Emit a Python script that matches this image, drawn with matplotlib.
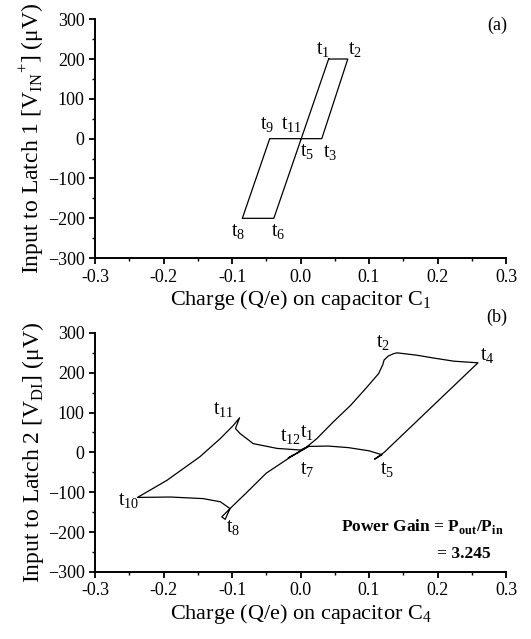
import numpy as np
import matplotlib
matplotlib.use("Agg")
import matplotlib.pyplot as plt
from matplotlib.ticker import MultipleLocator, FormatStrFormatter

plt.rcParams['font.family'] = ['Liberation Serif', 'DejaVu Serif']
plt.rcParams['mathtext.fontset'] = 'custom'
plt.rcParams['mathtext.rm'] = 'Liberation Serif'
plt.rcParams['mathtext.bf'] = 'Liberation Serif:bold'

# (a) latch 1 input vs charge on C1
qa = [0.041, 0.069, 0.031, 0.001, -0.039, -0.085, -0.045, 0.001, 0.041]
va = [200, 200, 0, 0, -200, -200, 0, 0, 200]

labels_a = [r"t$_1$", r"t$_2$", r"t$_9$", r"t$_{11}$", r"t$_5$", r"t$_3$", r"t$_8$", r"t$_6$"]
lab_qa = [0.033, 0.080, -0.049, -0.013, 0.010, 0.044, -0.091, -0.032]
lab_va = [222, 222, 34, 34, -35, -37, -235, -235]

# (b) latch 2 input vs charge on C4 (one traced loop)
qb = [0.010, 0.024, 0.048, 0.073, 0.097, 0.114, 0.120, 0.122, 0.128, 0.136, 0.141,
      0.170, 0.194, 0.224, 0.259,
      0.122, 0.108,
      0.119, 0.100, 0.070, 0.040, 0.012,
      -0.015, -0.05, -0.08, -0.103,
      -0.115, -0.110, -0.103, -0.117, -0.142, -0.190, -0.238,
      -0.195, -0.147, -0.117, -0.098, -0.089, -0.095,
      -0.088, -0.069, -0.034, 0.000, 0.012,
      -0.018, -0.010]
vb = [15, 35, 77, 118, 164, 198, 220, 232, 242, 248, 250,
      244, 237, 229, 225,
      0, -17,
      -6, 4, 12, 16, 15,
      -12, -52, -103, -141,
      -162, -168, -141, -124, -116, -112, -113,
      -70, -11, 35, 68, 87, 60,
      47, 22, 10, 6, 16,
      -14, -6]

labels_b = [r"t$_2$", r"t$_4$", r"t$_{11}$", r"t$_{12}$", r"t$_1$", r"t$_7$",
            r"t$_5$", r"t$_{10}$", r"t$_8$"]
lab_qb = [0.121, 0.272, -0.113, -0.015, 0.009, 0.009, 0.126, -0.251, -0.098]
lab_vb = [274, 240, 106, 39, 47, -45, -45, -124, -191]

fig = plt.figure(figsize=(5.31, 6.39), dpi=100)
ax1 = fig.add_axes([0.179, 0.596, 0.774, 0.374])
ax2 = fig.add_axes([0.179, 0.105, 0.774, 0.374])

ax1.plot(qa, va, color='black', lw=0.9)
for s, x, y in zip(labels_a, lab_qa, lab_va):
    ax1.text(x, y, s, fontsize=14.5, ha='center', va='center')

ax2.plot(qb, vb, color='black', lw=0.9)
for s, x, y in zip(labels_b, lab_qb, lab_vb):
    ax2.text(x, y, s, fontsize=14.5, ha='center', va='center')
ax2.text(0.297, -187, r"Power Gain = P$_{\mathbf{out}}$/P$_{\mathbf{in}}$",
         fontsize=12.5, fontweight='bold', ha='right', va='center')
ax2.text(0.277, -254, "= 3.245", fontsize=12.5, fontweight='bold',
         ha='right', va='center')

ax1.text(0.287, 285, "(a)", fontsize=13, ha='center', va='center')
ax2.text(0.287, 340, "(b)", fontsize=13, ha='center', va='center', clip_on=False)

for ax in (ax1, ax2):
    ax.set_xlim(-0.3, 0.3)
    ax.set_ylim(-300, 300)
    ax.spines['top'].set_visible(False)
    ax.spines['right'].set_visible(False)
    for sp in ('left', 'bottom'):
        ax.spines[sp].set_linewidth(1.4)
    ax.xaxis.set_major_locator(MultipleLocator(0.1))
    ax.xaxis.set_minor_locator(MultipleLocator(0.05))
    ax.xaxis.set_major_formatter(FormatStrFormatter('%.1f'))
    ax.yaxis.set_major_locator(MultipleLocator(100))
    ax.yaxis.set_minor_locator(MultipleLocator(50))
    ax.tick_params(which='major', direction='out', length=4, width=1.3, labelsize=13)
    ax.tick_params(which='minor', direction='out', length=2.5, width=1.0)

ax1.set_xlabel(r"Charge (Q/e) on capacitor C$_1$", fontsize=16, labelpad=2)
ax1.set_ylabel("Input to Latch 1 [V$_{\\mathrm{IN}}$$^{+}$] (\u03bcV)", fontsize=17, labelpad=1)
ax2.set_xlabel(r"Charge (Q/e) on capacitor C$_4$", fontsize=16, labelpad=2)
ax2.set_ylabel("Input to Latch 2 [V$_{\\mathrm{DI}}$] (\u03bcV)", fontsize=17, labelpad=1)

fig.savefig("out.png", dpi=100)
